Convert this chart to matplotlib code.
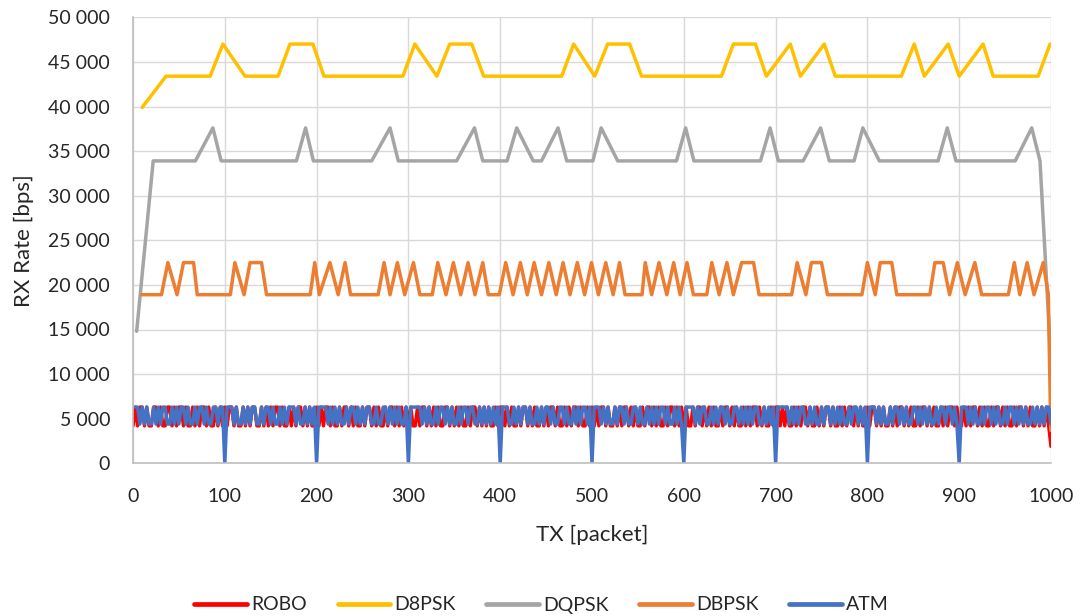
import numpy as np
import matplotlib
matplotlib.use("Agg")
import matplotlib.pyplot as plt
from matplotlib.ticker import FuncFormatter, MultipleLocator

plt.rcParams["font.family"] = ["Lato", "DejaVu Sans"]

# ---- data -----------------------------------------------------------------
SERIES = ["ROBO", "D8PSK", "DQPSK", "DBPSK", "ATM"]
COLORS = ["#FF0000", "#FFC000", "#A5A5A5", "#ED7D31", "#4472C4"]

D8PSK_TX = [10, 36, 84, 98, 122, 158, 171, 196, 208, 294, 307, 331, 345, 369,
            382, 467, 480, 503, 517, 541, 554, 641, 654, 678, 690, 716, 727,
            753, 765, 837, 851, 862, 888, 900, 926, 937, 986, 999]
D8PSK_RX = [39900, 43400, 43400, 47000, 43400, 43400, 47000, 47000, 43400,
            43400, 47000, 43400, 47000, 47000, 43400, 43400, 47000, 43400,
            47000, 47000, 43400, 43400, 47000, 47000, 43400, 47000, 43400,
            47000, 43400, 43400, 47000, 43400, 47000, 43400, 47000, 43400,
            43400, 47000]

DQPSK_TX = [4, 22, 68, 87, 96, 178, 188, 196.5, 260, 280, 289, 352.5, 372, 381,
            407.5, 418, 436, 445, 463, 472.5, 501, 510, 528, 592, 602, 611,
            683.5, 694, 703, 730, 749, 758.5, 785.5, 795, 813, 877, 887, 896.5,
            961, 979, 988, 1000]
DQPSK_RX = [14800, 33900, 33900, 37600, 33900, 33900, 37600, 33900, 33900,
            37600, 33900, 33900, 37600, 33900, 33900, 37600, 33900, 33900,
            37600, 33900, 33900, 37600, 33900, 33900, 37600, 33900, 33900,
            37600, 33900, 33900, 37600, 33900, 33900, 37600, 33900, 33900,
            37600, 33900, 33900, 37600, 33900, 11300]

DBPSK_TX = [9.5, 31, 38, 48, 55, 66, 70, 106, 111, 121, 127.5, 140, 145.5, 193,
            198, 203, 214.5, 223.5, 231, 237, 267, 273.5, 280, 288, 296, 305.5,
            312.5, 326, 332, 341, 349, 357, 365, 372.5, 381, 387, 399, 406,
            414, 422, 429.5, 437, 445, 453, 461, 468.5, 476, 484, 492, 499.5,
            507, 515, 523, 530, 536, 554.5, 558, 565, 573, 581.5, 589, 596,
            603.5, 610.5, 625, 630.5, 638.5, 647, 654, 663, 676, 682, 717.5,
            723.5, 733, 739, 750, 756.5, 794, 800, 808.5, 814, 826.5, 832,
            868, 873.5, 882.5, 889.5, 898, 906.5, 917, 924.5, 953.5, 960,
            966, 974, 981.5, 991.5, 997, 999.8]
DBPSK_RX = [18900, 18900, 22500, 18900, 22500, 22500, 18900, 18900, 22500,
            18900, 22500, 22500, 18900, 18900, 22500, 18900, 22500, 18900,
            22500, 18900, 18900, 22500, 18900, 22500, 18900, 22500, 18900,
            18900, 22500, 18900, 22500, 18900, 22500, 18900, 22500, 18900,
            18900, 22500, 18900, 22500, 18900, 22500, 18900, 22500, 18900,
            22500, 18900, 22500, 18900, 22500, 18900, 22500, 18900, 22500,
            18900, 18900, 22500, 18900, 22500, 18900, 22500, 18900, 22500,
            18900, 18900, 22500, 18900, 22500, 18900, 22500, 22500, 18900,
            18900, 22500, 18900, 22500, 22500, 18900, 18900, 22500, 18900,
            22500, 22500, 18900, 18900, 22500, 22500, 18900, 22500, 18900,
            22500, 18900, 18900, 22500, 18900, 22500, 18900, 22500, 19000,
            3700]

# fast-rate modes: one sample every 2.5 packets, H = high, L = low, 0 = lost
STEP = 2.5
ROBO_LEVELS = {"H": 6300, "L": 4200}
ROBO_SEQ = (
    "LHLHHLHL" "LHHLHLLH" "HLHLHHLH" "LLHLHLHH" "LHLLHLHL"
    "HLHHLHLL" "HLHLHHLL" "HLHLHLHH" "LHLLHLHL" "HHLHLHLL"
    "HLHLHHLH" "LLHLHHLH" "LHLLHLHH" "LHLHLLHL" "HHLHLHLH"
    "LHLLHLHH" "LHLHLHLL" "HHLHLHLH" "LLHLHHLH" "LHLHLLHL"
    "HHLHLHLL" "HLHHLHLH" "LLHLHLHH" "LHLLHLHL" "HHLHLLHL"
    "HLHLHHLH" "LLHLHLHH" "LHLHLLHL" "HHLHLHLL" "HLHHLHLH"
    "LHLLHLHH" "LHLHLHLL" "HLHHLHLH" "LLHLHLHH" "LHLHLLHL"
    "HHLHLHLL" "HLHLHHLH" "LLHLHLHH" "LHLLHLHL" "HHLHLHLL"
    "HLHHLHLH" "LLHLHLHH" "LHLHLLHL" "HHLHLHLL" "HLHLHHLH"
    "LLHLHLHH" "LHLHLLHL" "HHLHLHLL" "HLHHLHLH" "LLHLHLHL"
)
ROBO_END = 1900

ATM_LEVELS = {"H": 6300, "L": 4400, "0": 0}
ATM_SEQ = (
    "HHLHLHLL" "HLHLHHLL" "HLHLHHLH" "LLHLHHLH" "LLHHLHH0"
    "HHHLHLLH" "LHLHHLLH" "LHHLHLLH" "LHLHHHLH" "LLHLHLH0"
    "HHHHLHLH" "LHLLHLHH" "LHLHLHHL" "LHLLHHLH" "LHLHLLH0"
    "HHHHHLHL" "HLLHLHHL" "HLHLLHLH" "HLHHLLHL" "HLHLHLH0"
    "HHHLLHLH" "LHHLHLLH" "LHLHHLHL" "LHHLHLLH" "LHLHHLH0"
    "HHHLHLHL" "LHLHHLHL" "LHHLHLLH" "LHLHLHHL" "HLLHLHL0"
    "HHHHLHLH" "HLLHLHLH" "HLHLLHHL" "HLHLHLHH" "LLHLHLH0"
    "HHHHHLHL" "HLHHLLHL" "HLLHLHHL" "HLHLHLLH" "LHHLHLH0"
    "HHHLHLHL" "LHLHHLHL" "HLLHHLHL" "HLHLLHLH" "HLHHLHL0"
    "HHHLHLHL" "LHLHHLHL" "HLLHLHHL" "HLHLHLLH" "LHLHLHHL"
)

robo_tx = np.append(np.arange(len(ROBO_SEQ)) * STEP, 1000)
robo_rx = np.append([ROBO_LEVELS[c] for c in ROBO_SEQ], ROBO_END)
atm_tx = (np.arange(len(ATM_SEQ)) + 1) * STEP
atm_rx = np.array([ATM_LEVELS[c] for c in ATM_SEQ])

X_TICKS = list(range(0, 1001, 100))
Y_MAX = 50000

# ---- figure ---------------------------------------------------------------
fig = plt.figure(figsize=(10.83, 6.16), dpi=100)
ax = fig.add_axes([133 / 1083, 1 - 463.3 / 616, (1051 - 133) / 1083, (463.3 - 17.3) / 616])

lw = 2.5
data = [(robo_tx, robo_rx), (D8PSK_TX, D8PSK_RX), (DQPSK_TX, DQPSK_RX),
        (DBPSK_TX, DBPSK_RX), (atm_tx, atm_rx)]
for name, color, (tx, rx) in zip(SERIES, COLORS, data):
    ax.plot(tx, rx, color=color, lw=lw, label=name, solid_joinstyle="round",
            solid_capstyle="round")

ax.set_xlim(0, 1000)
ax.set_ylim(0, Y_MAX)
ax.set_xticks(X_TICKS)
ax.yaxis.set_major_locator(MultipleLocator(5000))
ax.yaxis.set_major_formatter(FuncFormatter(lambda v, p: f"{v:,.0f}".replace(",", " ")))

ax.grid(True, color="#D9D9D9", lw=1.0)
ax.set_axisbelow(True)
for side in ("top", "right"):
    ax.spines[side].set_visible(False)
for side in ("left", "bottom"):
    ax.spines[side].set_color("#BFBFBF")
    ax.spines[side].set_linewidth(1.2)

text_color = "#262626"
ax.tick_params(axis="both", length=0, labelsize=14, colors=text_color)
ax.tick_params(axis="x", pad=18)
ax.tick_params(axis="y", pad=16.5)

ax.set_xlabel("TX [packet]", fontsize=16, color=text_color, labelpad=14)
ax.set_ylabel("RX Rate [bps]", fontsize=16, color=text_color, labelpad=10)

fig.legend(loc="center", bbox_to_anchor=(0.5, 1 - 605 / 616), ncol=5,
           frameon=False, fontsize=14, handlelength=2.7, handletextpad=0.2,
           columnspacing=1.6, labelcolor=text_color)
for line in fig.legends[0].get_lines():
    line.set_linewidth(3.4)

fig.savefig("out.png", dpi=100)
